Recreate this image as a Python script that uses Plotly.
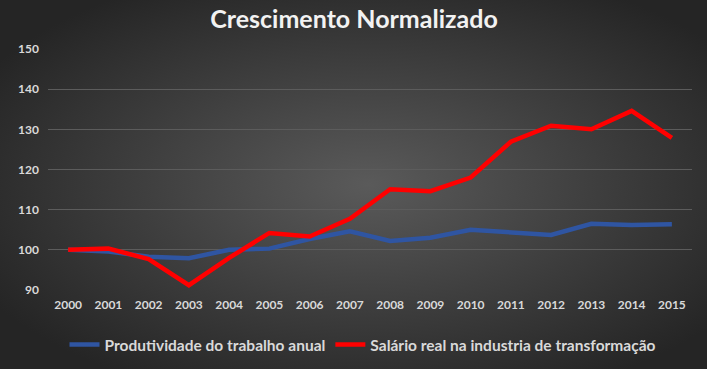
import base64
import plotly.graph_objects as go

years = [str(y) for y in range(2000, 2016)]
produtividade = [100, 99.6, 98.3, 97.9, 100, 100.3, 102.7, 104.6, 102.2, 103, 105, 104.3, 103.7, 106.5, 106.2, 106.4]
salario = [100, 100.3, 97.7, 91.2, 98, 104.2, 103.3, 107.7, 115.1, 114.6, 118, 126.9, 130.9, 130, 134.6, 127.9]
y_ticks = [90, 100, 110, 120, 130, 140, 150]

W, H = 707, 369
L, R, T, B = 48, 15, 49, 79
pw, ph = W - L - R, H - T - B

svg = f'''<svg xmlns="http://www.w3.org/2000/svg" width="{W}" height="{H}" viewBox="0 0 {W} {H}" preserveAspectRatio="none">
<defs><radialGradient id="g" cx="52%" cy="50%" r="62%">
<stop offset="0%" stop-color="#5a5a5a"/>
<stop offset="100%" stop-color="#252525"/>
</radialGradient></defs>
<rect width="{W}" height="{H}" fill="url(#g)"/></svg>'''
src = "data:image/svg+xml;base64," + base64.b64encode(svg.encode()).decode()

fig = go.Figure()
fig.add_trace(go.Scatter(x=years, y=produtividade, mode="lines", name="Produtividade do trabalho anual",
                         line=dict(color="#2f55a2", width=4.5)))
fig.add_trace(go.Scatter(x=years, y=salario, mode="lines", name="Salário real na industria de transformação",
                         line=dict(color="#ff0000", width=4.5)))

fig.add_layout_image(dict(source=src, xref="paper", yref="paper", x=-L / pw, y=1 + T / ph,
                          sizex=W / pw, sizey=H / ph, xanchor="left", yanchor="top",
                          sizing="stretch", layer="below"))

fig.update_layout(
    width=W, height=H,
    margin=dict(l=L, r=R, t=T, b=B),
    paper_bgcolor="#2a2a2a", plot_bgcolor="rgba(0,0,0,0)",
    font=dict(family="Lato, Calibri, sans-serif", color="#d9d9d9"),
    title=dict(text="<b>Crescimento Normalizado</b>", x=354 / W, xref="container", xanchor="center",
               y=1 - 19 / H, yref="container", yanchor="middle",
               font=dict(size=25, color="#f2f2f2")),
    showlegend=True,
    legend=dict(orientation="h", x=363 / W, xanchor="center", xref="container", y=1 - 345 / H, yref="container",
                yanchor="middle", font=dict(size=15.5, color="#d9d9d9", weight="bold"), bgcolor="rgba(0,0,0,0)",
                itemwidth=30, tracegroupgap=0),
    xaxis=dict(type="category", range=[-0.5, 15.5], showgrid=False, showline=False, zeroline=False,
               tickfont=dict(size=12, color="#d9d9d9", weight="bold"), ticks="", ticklabelstandoff=6),
    yaxis=dict(range=[90, 150], tickvals=y_ticks, showgrid=True, gridcolor="#5c5c5c", gridwidth=1,
               zeroline=False, showline=False, tickfont=dict(size=12, color="#d9d9d9", weight="bold"), ticks="",
               ticklabelstandoff=8),
)

fig.write_html("out.html", config={"displayModeBar": False},
               post_script="document.body.style.margin='0';")
